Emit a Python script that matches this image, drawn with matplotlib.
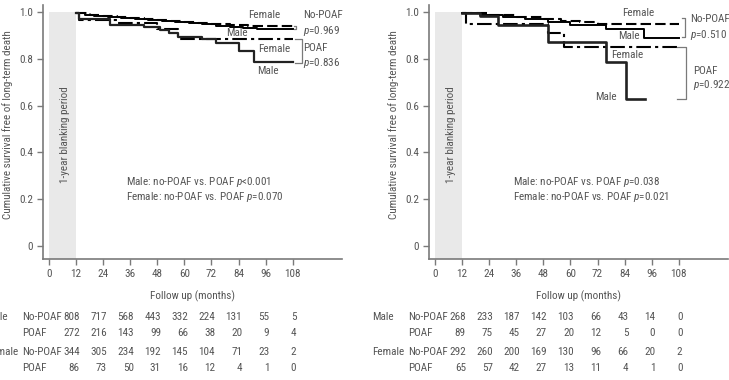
import matplotlib
matplotlib.use("Agg")
import matplotlib.pyplot as plt
from matplotlib import font_manager as fm

# ---------------- data ----------------
months_ticks = [0, 12, 24, 36, 48, 60, 72, 84, 96, 108]
risk_months = [12, 24, 36, 48, 60, 72, 84, 96, 108]

# Left cohort
L_male_np_t = [12, 16, 20, 26, 32, 38, 44, 50, 56, 62, 68, 74, 80, 86, 92, 108]
L_male_np_s = [0.995, 0.99, 0.985, 0.98, 0.975, 0.97, 0.967, 0.963, 0.958, 0.953, 0.948, 0.943, 0.938, 0.934, 0.930, 0.930]
L_fem_np_t = [12, 18, 24, 30, 36, 42, 48, 54, 60, 66, 72, 80, 88, 96, 108]
L_fem_np_s = [0.998, 0.99, 0.985, 0.98, 0.976, 0.972, 0.968, 0.964, 0.96, 0.955, 0.95, 0.946, 0.942, 0.94, 0.94]
L_male_p_t = [12, 13.5, 27, 42, 49, 53, 57, 68, 74, 84, 91, 108]
L_male_p_s = [0.995, 0.97, 0.945, 0.935, 0.925, 0.91, 0.895, 0.885, 0.87, 0.835, 0.785, 0.785]
L_fem_p_t = [12, 13.5, 30, 48, 57, 108]
L_fem_p_s = [0.998, 0.965, 0.955, 0.93, 0.885, 0.885]

# Right cohort
R_male_np_t = [12, 20, 30, 40, 50, 60, 75.6, 92.6, 108]
R_male_np_s = [0.995, 0.99, 0.98, 0.97, 0.96, 0.945, 0.927, 0.888, 0.888]
R_fem_np_t = [12, 24, 36, 48, 56, 64, 72, 108]
R_fem_np_s = [0.998, 0.99, 0.98, 0.97, 0.962, 0.957, 0.95, 0.95]
R_male_p_t = [12, 20, 27.7, 50, 75.6, 84.4, 93]
R_male_p_s = [0.995, 0.985, 0.946, 0.871, 0.788, 0.63, 0.63]
R_fem_p_t = [12, 13.7, 50, 57.3, 108]
R_fem_p_s = [0.995, 0.948, 0.91, 0.852, 0.852]

# Numbers at risk
L_risk_male_np = [808, 717, 568, 443, 332, 224, 131, 55, 5]
L_risk_male_p = [272, 216, 143, 99, 66, 38, 20, 9, 4]
L_risk_fem_np = [344, 305, 234, 192, 145, 104, 71, 23, 2]
L_risk_fem_p = [86, 73, 50, 31, 16, 12, 4, 1, 0]
R_risk_male_np = [268, 233, 187, 142, 103, 66, 43, 14, 0]
R_risk_male_p = [89, 75, 45, 27, 20, 12, 5, 0, 0]
R_risk_fem_np = [292, 260, 200, 169, 130, 96, 66, 20, 2]
R_risk_fem_p = [65, 57, 42, 27, 13, 11, 4, 1, 0]

L_stats = ["Male: no-POAF vs. POAF $p$<0.001", "Female: no-POAF vs. POAF $p$=0.070"]
R_stats = ["Male: no-POAF vs. POAF $p$=0.038", "Female: no-POAF vs. POAF $p$=0.021"]
L_p = ["$p$=0.969", "$p$=0.836"]
R_p = ["$p$=0.510", "$p$=0.922"]

# ---------------- font ----------------
avail = {(f.name, f.stretch) for f in fm.fontManager.ttflist}
names = {f.name for f in fm.fontManager.ttflist}
fam = "DejaVu Sans"
for cand in ["Roboto Condensed", "Liberation Sans Narrow", "Open Sans Condensed", "Noto Sans Condensed"]:
    if cand in names:
        fam = cand
        break
else:
    if ("DejaVu Sans", "condensed") in avail or ("DejaVu Sans", "semi-condensed") in avail:
        plt.rcParams["font.stretch"] = "condensed"
plt.rcParams["font.family"] = [fam, "DejaVu Sans"]
plt.rcParams["mathtext.fontset"] = "custom"
plt.rcParams["mathtext.it"] = fam + ":italic"
plt.rcParams["mathtext.rm"] = fam

TXT = "#555555"
AX = "#7a7a7a"
FS = 8

W, H = 729, 380
fig = plt.figure(figsize=(W / 100, H / 100), dpi=100)

def make_axes(left_px):
    ax = fig.add_axes([left_px / W, (H - 259) / H, 299 / W, 254 / H])
    ax.set_xlim(-2.8, 129.7)
    ax.set_ylim(-0.057, 1.031)
    for s in ["top", "right"]:
        ax.spines[s].set_visible(False)
    for s in ["left", "bottom"]:
        ax.spines[s].set_color(AX)
        ax.spines[s].set_linewidth(1.2)
    ax.set_xticks(months_ticks)
    ax.set_yticks([0, 0.2, 0.4, 0.6, 0.8, 1.0])
    ax.set_yticklabels(["0", "0.2", "0.4", "0.6", "0.8", "1.0"])
    ax.tick_params(colors=AX, labelcolor=TXT, labelsize=FS, length=4, width=1.0, pad=3)
    ax.axvspan(0, 12, ymin=0, ymax=(1.0 + 0.057) / (1.031 + 0.057), color="#e9e9e9", lw=0, zorder=0)
    ax.text(7.1, 0.474, "1-year blanking period", rotation=90, ha="center", va="center",
            fontsize=FS, color=TXT)
    ax.set_xlabel("Follow up (months)", fontsize=FS, color=TXT)
    ax.xaxis.set_label_coords(0.5, -0.125)
    ax.set_ylabel("Cumulative survival free of long-term death", fontsize=FS, color=TXT)
    ax.yaxis.set_label_coords(-0.1, 0.528)
    return ax

def curves(ax, mnp, fnp, mp, fp, thick_male_p=1.6):
    ax.step(fnp[0], fnp[1], where="post", color="black", lw=1.5, ls=(0, (5, 2)))
    ax.step(mnp[0], mnp[1], where="post", color="black", lw=1.4, ls="-")
    ax.step(fp[0], fp[1], where="post", color="black", lw=1.5, ls=(0, (7, 2, 1.5, 2)))
    ax.step(mp[0], mp[1], where="post", color="#222222", lw=thick_male_p, ls="-")

def bracket(ax, x, y0, y1, xl):
    ax.plot([xl, x, x, xl], [y1, y1, y0, y0], color=AX, lw=0.9, clip_on=False)

def risk_table(ax, rows, group_x, sub_x):
    ys = [316.7, 333.3, 352.3, 367.7]
    subs = ["No-POAF", "POAF", "No-POAF", "POAF"]
    groups = {0: "Male", 2: "Female"}
    tr = matplotlib.transforms.blended_transform_factory(ax.transData, fig.transFigure)
    for i, (row, ypx) in enumerate(zip(rows, ys)):
        yf = 1 - ypx / H
        ax.text(sub_x, yf, subs[i], transform=tr, ha="left", va="center", fontsize=FS, color=TXT, clip_on=False)
        if i in groups:
            ax.text(group_x, yf, groups[i], transform=tr, ha="left", va="center", fontsize=FS, color=TXT, clip_on=False)
        for m, v in zip(risk_months, row):
            ax.text(m + 1.6, yf, str(v), transform=tr, ha="right", va="center", fontsize=FS, color=TXT, clip_on=False)

# ---------------- left panel ----------------
axL = make_axes(42.7)
curves(axL, (L_male_np_t, L_male_np_s), (L_fem_np_t, L_fem_np_s),
       (L_male_p_t, L_male_p_s), (L_fem_p_t, L_fem_p_s))
kw = dict(fontsize=FS, color=TXT, clip_on=False)
axL.text(95.6, 0.988, "Female", ha="center", va="center", **kw)
axL.text(83.4, 0.913, "Male", ha="center", va="center", **kw)
axL.text(99.8, 0.841, "Female", ha="center", va="center", **kw)
axL.text(96.9, 0.748, "Male", ha="center", va="center", **kw)
axL.text(112.4, 0.988, "No-POAF", ha="left", va="center", **kw)
axL.text(112.4, 0.921, L_p[0], ha="left", va="center", **kw)
axL.text(112.4, 0.846, "POAF", ha="left", va="center", **kw)
axL.text(112.4, 0.781, L_p[1], ha="left", va="center", **kw)
bracket(axL, 109.6, 0.928, 0.94, 108.6)
bracket(axL, 111.9, 0.784, 0.886, 108.9)
axL.text(34.1, 0.274, L_stats[0], ha="left", va="center", **kw)
axL.text(34.1, 0.210, L_stats[1], ha="left", va="center", **kw)
risk_table(axL, [L_risk_male_np, L_risk_male_p, L_risk_fem_np, L_risk_fem_p], -28.0, -12.1)

# ---------------- right panel ----------------
axR = make_axes(429)
axR.set_xlim(-2.7, 129.8)
curves(axR, (R_male_np_t, R_male_np_s), (R_fem_np_t, R_fem_np_s),
       (R_male_p_t, R_male_p_s), (R_fem_p_t, R_fem_p_s), thick_male_p=1.9)
axR.text(89.9, 0.996, "Female", ha="center", va="center", **kw)
axR.text(85.7, 0.898, "Male", ha="center", va="center", **kw)
axR.text(85.0, 0.817, "Female", ha="center", va="center", **kw)
axR.text(75.7, 0.636, "Male", ha="center", va="center", **kw)
axR.text(112.9, 0.970, "No-POAF", ha="left", va="center", **kw)
axR.text(112.9, 0.903, R_p[0], ha="left", va="center", **kw)
axR.text(114.2, 0.750, "POAF", ha="left", va="center", **kw)
axR.text(114.2, 0.689, R_p[1], ha="left", va="center", **kw)
bracket(axR, 110.7, 0.895, 0.976, 109.3)
bracket(axR, 111.4, 0.628, 0.85, 107.0)
axR.text(34.5, 0.274, R_stats[0], ha="left", va="center", **kw)
axR.text(34.5, 0.210, R_stats[1], ha="left", va="center", **kw)
risk_table(axR, [R_risk_male_np, R_risk_male_p, R_risk_fem_np, R_risk_fem_p], -28.0, -12.1)

fig.savefig("out.png", dpi=100)
